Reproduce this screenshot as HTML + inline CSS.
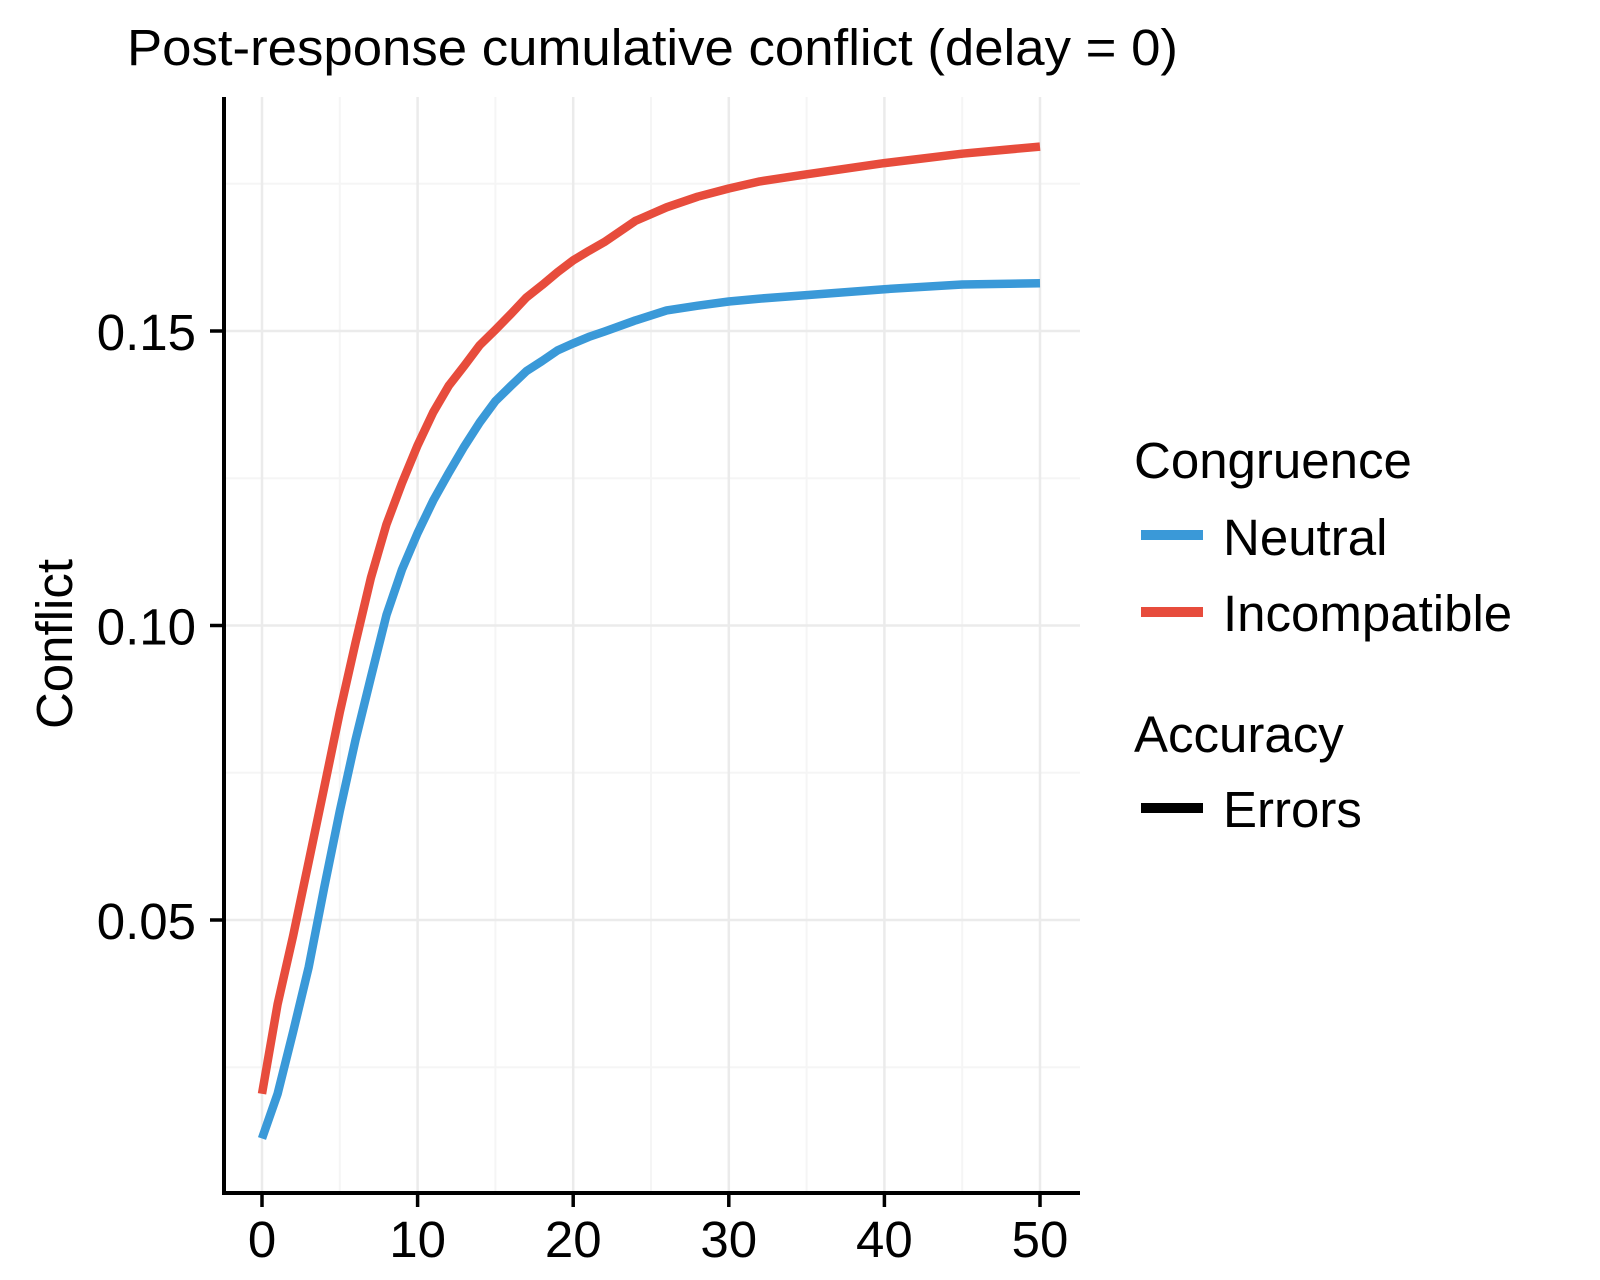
<!DOCTYPE html>
<html><head><meta charset="utf-8"><style>
html,body{margin:0;padding:0;background:#fff;}
svg{display:block;font-family:"Liberation Sans",Arial,sans-serif;}
</style></head><body>
<svg id="chart" width="1600" height="1280" viewBox="0 0 1600 1280">
<text x="127" y="65" font-size="51" textLength="1051" lengthAdjust="spacingAndGlyphs">Post-response cumulative conflict (delay = 0)</text>
<g id="grid"></g>
<g id="series"></g>
<g id="axes"></g>
<text transform="translate(72,644) rotate(-90)" text-anchor="middle" font-size="51">Conflict</text>
<g>
<text x="1134" y="478" font-size="51">Congruence</text>
<line x1="1141" y1="535" x2="1203" y2="535" stroke="#3a99d8" stroke-width="10"/>
<text x="1223" y="555" font-size="51">Neutral</text>
<line x1="1141" y1="612" x2="1203" y2="612" stroke="#e74c3c" stroke-width="10"/>
<text x="1223" y="631" font-size="51">Incompatible</text>
<text x="1134" y="752" font-size="51">Accuracy</text>
<line x1="1141" y1="808" x2="1203" y2="808" stroke="#000" stroke-width="10"/>
<text x="1223" y="827" font-size="51">Errors</text>
</g>
</svg>
<script>
const xs = [0,1,2,3,4,5,6,7,8,9,10,11,12,13,14,15,16,17,18,19,20,21,22,24,26,28,30,32,35,40,45,50];
const neutral = [0.0129,0.0205,0.031,0.042,0.0555,0.0685,0.0805,0.0912,0.1018,0.1095,0.1157,0.1212,0.1259,0.1304,0.1345,0.1381,0.1407,0.1432,0.1449,0.1467,0.1479,0.149,0.1499,0.1518,0.1535,0.1543,0.155,0.1555,0.1561,0.1571,0.1579,0.1581];
const incompatible = [0.0205,0.0357,0.0473,0.0599,0.0725,0.0853,0.097,0.1081,0.1172,0.1242,0.1306,0.1362,0.1407,0.1441,0.1476,0.1502,0.1529,0.1557,0.1578,0.16,0.162,0.1636,0.1651,0.1687,0.171,0.1728,0.1742,0.1754,0.1766,0.1785,0.1801,0.1813];
const xTicks = [0,10,20,30,40,50];
const xMinor = [5,15,25,35,45];
const yTicks = [0.05,0.10,0.15];
const yTickLabels = ["0.05","0.10","0.15"];
const yMinor = [0.025,0.075,0.125,0.175];

const NS = "http://www.w3.org/2000/svg";
const L = 224, R = 1080, T = 97, B = 1193;
function sx(v){ return 262 + (v - 0) * (1040 - 262) / 50; }
function sy(v){ return 331 + (0.15 - v) * (294.5 / 0.05); }
function mk(tag, attrs, parent){
  const e = document.createElementNS(NS, tag);
  for (const k in attrs) e.setAttribute(k, attrs[k]);
  parent.appendChild(e); return e;
}
const grid = document.getElementById('grid');
yMinor.forEach(v => {
  const l = mk('line', {x1:L, x2:R, y1:sy(v), y2:sy(v), stroke:'#f5f5f5', 'stroke-width':2}, grid);
  
  
});
xMinor.forEach(v => {
  const l = mk('line', {x1:sx(v), x2:sx(v), y1:T, y2:B, stroke:'#f5f5f5', 'stroke-width':2}, grid);
  
  
});
yTicks.forEach(v => {
  const l = mk('line', {x1:L, x2:R, y1:sy(v), y2:sy(v), stroke:'#ebebeb', 'stroke-width':2.5}, grid);
  
  
});
xTicks.forEach(v => {
  const l = mk('line', {x1:sx(v), x2:sx(v), y1:T, y2:B, stroke:'#ebebeb', 'stroke-width':2.5}, grid);
  
  
});
const series = document.getElementById('series');
function path(vals){ return vals.map((v,i)=>(i?'L':'M')+sx(xs[i]).toFixed(1)+','+sy(v).toFixed(1)).join(''); }
const pn = mk('path', {d:path(neutral), fill:'none', stroke:'#3a99d8', 'stroke-width':8.5, 'stroke-linejoin':'round', 'stroke-linecap':'butt'}, series);


const pi = mk('path', {d:path(incompatible), fill:'none', stroke:'#e74c3c', 'stroke-width':8.5, 'stroke-linejoin':'round', 'stroke-linecap':'butt'}, series);


const axes = document.getElementById('axes');
const ya = mk('line', {x1:L, x2:L, y1:T, y2:B+2, stroke:'#000', 'stroke-width':4}, axes);


const xa = mk('line', {x1:L-2, x2:R, y1:B, y2:B, stroke:'#000', 'stroke-width':4}, axes);


xTicks.forEach(v => {
  const t = mk('line', {x1:sx(v), x2:sx(v), y1:B, y2:B+14, stroke:'#000', 'stroke-width':3.5}, axes);
  
  
  const tx = mk('text', {x:sx(v), y:1257, 'text-anchor':'middle', 'font-size':51}, axes);
  tx.textContent = String(v);
  
  
});
yTicks.forEach((v,i) => {
  const t = mk('line', {x1:L-14, x2:L, y1:sy(v), y2:sy(v), stroke:'#000', 'stroke-width':3.5}, axes);
  
  
  const tx = mk('text', {x:196, y:sy(v)+19, 'text-anchor':'end', 'font-size':51}, axes);
  tx.textContent = yTickLabels[i];
  
  
});
</script>
</body></html>
